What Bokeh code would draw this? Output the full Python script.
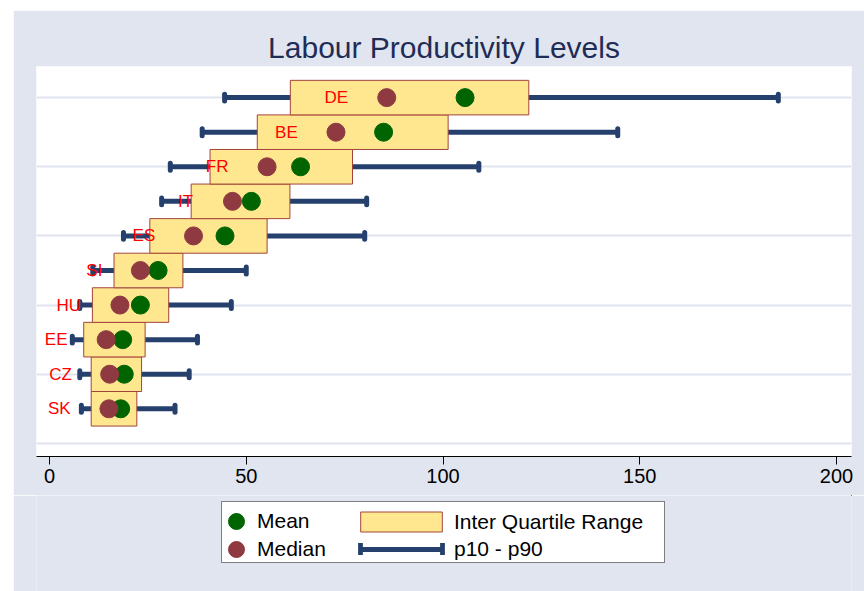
from bokeh.plotting import figure
from bokeh.layouts import column, row
from bokeh.models import (ColumnDataSource, Range1d, FixedTicker, Legend,
                          LegendItem, Spacer)
from bokeh.core.properties import value
from bokeh.embed import file_html
from bokeh.resources import INLINE

# ---- data ----
countries = ["SK", "CZ", "EE", "HU", "SI", "ES", "IT", "FR", "BE", "DE"]
rank = [1, 2, 3, 4, 5, 6, 7, 8, 9, 10]
p10 = [8.1, 7.7, 5.8, 7.7, 11.0, 18.8, 28.5, 30.7, 38.8, 44.5]
p25 = [10.6, 10.6, 8.7, 10.9, 16.4, 25.5, 36.0, 40.8, 52.8, 61.2]
median = [15.1, 15.3, 14.4, 17.9, 23.1, 36.6, 46.5, 55.3, 72.8, 85.7]
mean = [18.1, 19.0, 18.6, 23.1, 27.6, 44.6, 51.3, 63.8, 84.9, 105.6]
p75 = [22.2, 23.4, 24.3, 30.3, 33.9, 55.3, 61.1, 77.0, 101.3, 121.8]
p90 = [31.9, 35.5, 37.6, 46.2, 50.0, 80.1, 80.6, 109.1, 144.4, 185.2]
label_x = [2.5, 2.8, 1.7, 4.9, 11.4, 24.0, 34.6, 42.6, 60.2, 72.9]
x_ticks = [0, 50, 100, 150, 200]
grid_ticks = [0, 2, 4, 6, 8, 10]

BG = "#E1E5EF"
GRID = "#DFE4EE"
BOX_FILL = "#FEE78F"
BOX_LINE = "#A3443C"
MEAN_C = "#006400"
MED_C = "#8E3A40"
WHISK = "#26406E"
FONT = "Liberation Sans"

src = ColumnDataSource(dict(
    country=countries, rank=rank, p10=p10, p25=p25, median=median,
    mean=mean, p75=p75, p90=p90, label_x=label_x,
    cap_lo=[r - 0.1 for r in rank], cap_hi=[r + 0.1 for r in rank],
))

p = figure(width=851, height=485, output_backend="svg", toolbar_location=None,
           x_range=Range1d(-3.3, 203.8), y_range=Range1d(-0.38, 10.9),
           min_border_left=23, min_border_right=13, min_border_top=56,
           min_border_bottom=39)
p.background_fill_color = "white"
p.border_fill_color = BG
p.outline_line_color = None

# title
p.title.text = "Labour Productivity Levels"
p.title.align = "center"
p.title.text_font = FONT
p.title.text_font_size = "30px"
p.title.text_font_style = "normal"
p.title.text_color = "#1F2D56"
p.title.standoff = 6

# axes / grid
p.yaxis.visible = False
p.yaxis.ticker = FixedTicker(ticks=grid_ticks)
p.ygrid.ticker = FixedTicker(ticks=grid_ticks)
p.ygrid.grid_line_color = GRID
p.ygrid.grid_line_width = 2
p.xgrid.visible = False

p.xaxis.ticker = FixedTicker(ticks=x_ticks)
p.xaxis.major_label_text_font = FONT
p.xaxis.major_label_text_font_size = "20px"
p.xaxis.major_label_text_color = "black"
p.xaxis.axis_line_color = "black"
p.xaxis.major_tick_line_color = "black"
p.xaxis.major_tick_out = 8
p.xaxis.major_tick_in = 0
p.xaxis.minor_tick_line_color = None
p.xaxis.major_label_standoff = 4

# whiskers (p10 - p90)
p.segment(x0="p10", y0="rank", x1="p90", y1="rank", source=src,
          line_color=WHISK, line_width=5)
p.segment(x0="p10", y0="cap_lo", x1="p10", y1="cap_hi", source=src,
          line_color=WHISK, line_width=5, line_cap="round")
p.segment(x0="p90", y0="cap_lo", x1="p90", y1="cap_hi", source=src,
          line_color=WHISK, line_width=5, line_cap="round")

# inter-quartile boxes
p.hbar(y="rank", left="p25", right="p75", height=1.0, source=src,
       fill_color=BOX_FILL, line_color=BOX_LINE, line_width=1)

# mean and median markers
p.scatter(x="mean", y="rank", source=src, size=18, color=MEAN_C)
p.scatter(x="median", y="rank", source=src, size=18, color=MED_C)

# country labels
p.text(x="label_x", y="rank", text="country", source=src,
       text_align="center", text_baseline="middle", text_color="#FF0000",
       text_font_size="17px", text_font=value(FONT))

# ---- legend (in its own strip below the chart) ----
# The key renderers share the chart's data, but this strip's ranges keep
# their marks out of view, so only the legend keys are drawn.
lf = figure(width=851, height=96, output_backend="svg", toolbar_location=None,
            x_range=Range1d(-1000, -999), y_range=Range1d(-1000, -999),
            x_axis_location=None, y_axis_location=None,
            min_border_left=0, min_border_right=0, min_border_top=0,
            min_border_bottom=0)
lf.grid.visible = False
lf.background_fill_color = BG
lf.border_fill_color = BG
lf.outline_line_color = None

frame_key = lf.line(x="mean", y="rank", source=src, line_alpha=0)
dot_mean = lf.scatter(x="mean", y="rank", source=src, color=MEAN_C)
dot_med = lf.scatter(x="median", y="rank", source=src, color=MED_C)
box_key = lf.hbar(y="rank", left="p25", right="p75", height=1.0, source=src,
                  fill_color=BOX_FILL, line_color=BOX_LINE, line_width=1)
whisk_key = lf.segment(x0="p10", y0="rank", x1="p90", y1="rank", source=src,
                       line_color=WHISK, line_width=5)
cap_key = lf.rect(x="p10", y="rank", width=1, height=1, source=src,
                  fill_color=WHISK, line_color=None)

common = dict(margin=0, label_text_font=FONT, label_text_font_size="21px",
              label_text_color="black")
DX = -24  # horizontal correction of the legend strip

leg_frame = Legend(items=[LegendItem(label=" ", renderers=[frame_key])],
                   location=(209 + DX, 28), padding=0, glyph_width=442,
                   glyph_height=60, label_standoff=0, label_width=0,
                   label_height=0, label_text_font_size="1px", margin=0,
                   border_line_color="black", border_line_width=1,
                   background_fill_color="white", background_fill_alpha=1.0)

leg_mean = Legend(items=[LegendItem(label="Mean", renderers=[dot_mean])],
                  location=(204 + DX, 50), padding=0, glyph_width=40,
                  glyph_height=40, label_height=22, label_standoff=1,
                  border_line_color=None, background_fill_alpha=0, **common)

leg_med = Legend(items=[LegendItem(label="Median", renderers=[dot_med])],
                 location=(204 + DX, 22), padding=0, glyph_width=40,
                 glyph_height=40, label_height=22, label_standoff=1,
                 border_line_color=None, background_fill_alpha=0, **common)

leg_b = Legend(items=[LegendItem(label="Inter Quartile Range", renderers=[box_key])],
               location=(338 + DX, 57), padding=0, glyph_width=102, glyph_height=25,
               label_height=22, label_standoff=2,
               border_line_color=None, background_fill_alpha=0, **common)

leg_c = Legend(items=[LegendItem(label="p10 - p90", renderers=[whisk_key])],
               location=(348 + DX, 30), padding=0, glyph_width=82, glyph_height=24,
               label_height=22, label_standoff=12,
               border_line_color=None, background_fill_alpha=0, **common)

leg_caps = Legend(items=[LegendItem(label=" ", renderers=[cap_key]),
                         LegendItem(label=" ", renderers=[cap_key])],
                  orientation="horizontal",
                  location=(345 + DX, 35), padding=0, glyph_width=6,
                  glyph_height=15, label_standoff=0, label_width=0,
                  label_height=0, label_text_font_size="1px", margin=0,
                  spacing=76, border_line_color=None, background_fill_alpha=0)

for lg in (leg_frame, leg_mean, leg_med, leg_b, leg_c, leg_caps):
    lf.add_layout(lg)

layout = column(Spacer(height=10),
                row(Spacer(width=13), column(p, lf, spacing=0), spacing=0),
                spacing=0)

open("out.html", "w").write(file_html(layout, INLINE))
